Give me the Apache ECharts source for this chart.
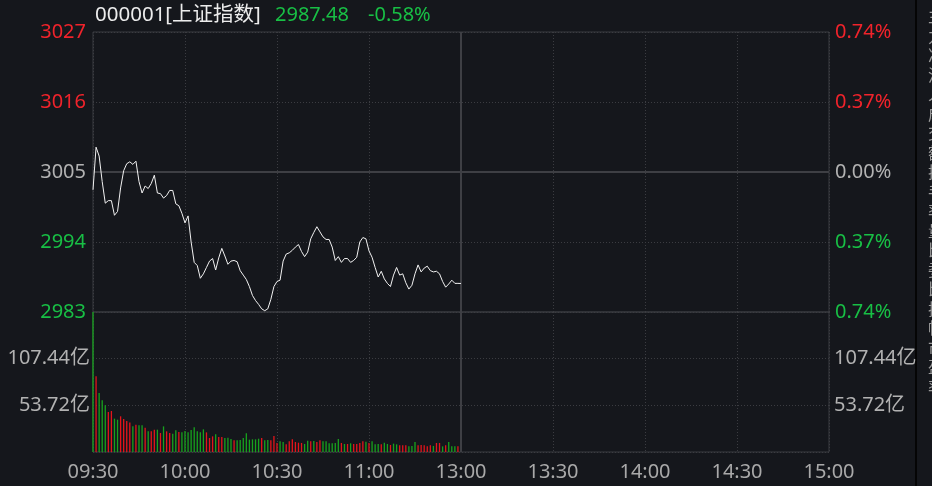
<!DOCTYPE html>
<html>
<head>
<meta charset="utf-8">
<script src="https://cdn.jsdelivr.net/npm/echarts@6/dist/echarts.min.js"></script>
<style>
html,body{margin:0;padding:0;background:#15171c;}
#chart{width:932px;height:486px;}
</style>
</head>
<body>
<div id="chart"></div>
<script>
const title = '000001[上证指数]';
const lastPrice = '2987.48';
const lastChange = '-0.58%';
const prevClose = 3005;
const priceTicks = ['2983', '2994', '3005', '3016', '3027'];
const pctTicks = ['0.74%', '0.37%', '0.00%', '0.37%', '0.74%'];
const volTicks = ['', '53.72亿', '107.44亿', ''];
const timeTicks = ['09:30', '10:00', '10:30', '11:00', '13:00', '13:30', '14:00', '14:30', '15:00'];

// minute-by-minute index level, 09:30 .. 11:30
const prices = [
  3002.2, 3008.9, 3007.5, 3003.5, 3000.1, 3000.5, 3000.5, 2998.2, 2998.8, 3002.5,
  3005.2, 3006.3, 3006.6, 3006.2, 3006.7, 3003.5, 3001.7, 3002.8, 3002.4, 3003.2,
  3004.5, 3001.7, 3001.6, 3000.9, 3001.3, 3002.1, 3002.1, 3000.0, 2999.7, 2998.5,
  2997.0, 2998.1, 2994.0, 2990.8, 2990.3, 2988.3, 2989.0, 2990.0, 2991.0, 2991.4,
  2989.6, 2991.5, 2993.0, 2991.8, 2990.5, 2991.0, 2991.1, 2990.9, 2989.5, 2988.8,
  2988.1, 2987.0, 2985.6, 2984.8, 2984.2, 2983.5, 2983.2, 2983.5, 2985.0, 2987.0,
  2987.8, 2988.0, 2991.0, 2992.1, 2992.3, 2992.7, 2993.2, 2993.6, 2992.5, 2991.7,
  2992.4, 2994.5, 2995.5, 2996.4, 2995.6, 2994.8, 2994.4, 2994.4, 2993.2, 2991.1,
  2991.7, 2990.8, 2991.4, 2991.4, 2990.8, 2991.1, 2991.6, 2994.0, 2994.7, 2994.5,
  2992.6, 2991.6, 2990.0, 2988.5, 2989.4, 2988.2, 2987.5, 2987.0, 2988.8, 2990.0,
  2988.8, 2989.0, 2987.6, 2986.6, 2987.2, 2989.0, 2990.4, 2989.3, 2989.9, 2990.2,
  2989.5, 2989.3, 2989.4, 2989.0, 2987.8, 2986.9, 2987.4, 2988.0, 2987.5, 2987.5,
  2987.48
];

// turnover per minute, 亿
const volumes = [
  250, 87.1, 67.9, 59.5, 53.7, 46.0, 47.2, 38.4, 37.2, 41.1,
  38.0, 35.7, 34.1, 29.5, 31.5, 30.7, 30.7, 28.0, 23.8, 23.8,
  25.7, 25.7, 21.9, 29.5, 23.8, 21.9, 21.1, 24.9, 23.0, 22.6,
  24.2, 22.6, 25.3, 28.4, 23.8, 22.6, 26.1, 22.6, 16.1, 18.0,
  20.3, 17.3, 17.3, 16.1, 16.5, 15.0, 13.4, 13.4, 13.8, 16.1,
  21.5, 14.2, 14.6, 14.6, 15.3, 16.1, 13.4, 13.8, 13.4, 18.4,
  10.4, 12.3, 11.5, 8.8, 12.3, 14.6, 11.5, 10.7, 10.4, 9.2,
  13.0, 12.3, 12.7, 11.5, 13.4, 12.3, 12.3, 10.0, 10.0, 10.4,
  14.9, 10.4, 9.2, 9.2, 10.0, 9.2, 9.2, 10.4, 12.3, 11.9,
  10.4, 12.3, 8.8, 9.2, 8.8, 10.7, 9.2, 8.1, 9.6, 8.8,
  7.7, 7.7, 7.7, 6.5, 6.9, 11.5, 7.7, 8.1, 7.7, 6.5,
  7.7, 7.0, 10.4, 10.4, 6.5, 7.7, 11.5, 6.5, 6.5, 6.5,
  5.8
];
// 1 = up minute (red), -1 = down minute (green)
const volDir = [
  -1, 1, -1, -1, -1, 1, 1, -1, -1, 1,
  1, 1, 1, -1, 1, -1, -1, 1, -1, 1,
  1, -1, 1, -1, 1, 1, -1, -1, 1, -1,
  -1, -1, -1, -1, -1, -1, -1, 1, 1, 1,
  -1, 1, 1, -1, -1, -1, 1, -1, -1, -1,
  -1, -1, -1, -1, -1, 1, -1, -1, 1, 1,
  1, -1, -1, 1, 1, 1, 1, 1, 1, -1,
  -1, 1, -1, 1, 1, -1, -1, -1, -1, -1,
  -1, 1, -1, 1, -1, 1, 1, 1, 1, -1,
  1, -1, -1, -1, 1, -1, -1, 1, -1, -1,
  1, 1, 1, -1, -1, -1, 1, 1, 1, 1,
  1, -1, 1, 1, -1, 1, -1, -1, -1, 1,
  1
];

const sideText = '主力净流入成交额换手率量比委比振幅市盈率';

const RED = '#f0232b';
const GREEN = '#18bf45';
const GREY = '#b2b2b2';
const BAR_RED = '#e4141b';
const BAR_GREEN = '#17a31d';
const LINE = '#3b3c41';
const FONT = "'Noto Sans', 'Noto Sans CJK SC', sans-serif";

const priceData = prices.map((p, i) => [i, +(p - prevClose).toFixed(2)]);
const volData = volumes.map((v, i) => ({
  value: [i, v],
  itemStyle: { color: volDir[i] > 0 ? BAR_RED : BAR_GREEN }
}));

const chart = echarts.init(document.getElementById('chart'), null, { renderer: 'canvas' });

const xCommon = {
  type: 'value', min: 0, max: 240, interval: 30,
  axisLine: { show: false }, axisTick: { show: false },
  splitLine: { show: true, lineStyle: { color: LINE, type: [1, 2], width: 1 } }
};

chart.setOption({
  animation: false,
  backgroundColor: '#15171c',
  textStyle: { fontFamily: FONT },
  grid: [
    { left: 93, right: 103, top: 32, height: 280, show: true, borderColor: LINE, borderWidth: 1, backgroundColor: 'transparent' },
    { left: 93, right: 103, top: 312, height: 140, show: true, borderColor: LINE, borderWidth: 1, backgroundColor: 'transparent' }
  ],
  xAxis: [
    Object.assign({ gridIndex: 0, axisLabel: { show: false } }, xCommon),
    Object.assign({ gridIndex: 1, axisLabel: {
      show: true, margin: 10, color: '#a9a9a9', fontSize: 20, fontFamily: FONT,
      formatter: v => timeTicks[Math.round(v / 30)] || ''
    } }, xCommon)
  ],
  yAxis: [
    {
      gridIndex: 0, type: 'value', min: -22, max: 22, interval: 11, position: 'left',
      axisLine: { show: false }, axisTick: { show: false },
      splitLine: { show: true, lineStyle: { color: LINE, type: [1, 2], width: 1 } },
      axisLabel: {
        margin: 7, fontSize: 20, fontFamily: FONT, padding: [4, 0, 0, 0],
        formatter: v => priceTicks[Math.round(v / 11) + 2],
        color: v => { const n = parseFloat(v); return n > 0.01 ? RED : (n < -0.01 ? GREEN : GREY); }
      }
    },
    {
      gridIndex: 0, type: 'value', min: -22, max: 22, interval: 11, position: 'right',
      axisLine: { show: false }, axisTick: { show: false }, splitLine: { show: false },
      axisLabel: {
        margin: 6, fontSize: 20, fontFamily: FONT, padding: [4, 0, 0, 0],
        formatter: v => pctTicks[Math.round(v / 11) + 2],
        color: v => { const n = parseFloat(v); return n > 0.01 ? RED : (n < -0.01 ? GREEN : GREY); }
      }
    },
    {
      gridIndex: 1, type: 'value', min: 0, max: 161.16, interval: 53.72, position: 'left',
      axisLine: { show: false }, axisTick: { show: false },
      splitLine: { show: true, lineStyle: { color: LINE, type: [1, 2], width: 1 } },
      axisLabel: {
        margin: 3, fontSize: 20, fontFamily: FONT, color: GREY, padding: [4, 0, 0, 0],
        formatter: v => volTicks[Math.round(v / 53.72)] || ''
      }
    },
    {
      gridIndex: 1, type: 'value', min: 0, max: 161.16, interval: 53.72, position: 'right',
      axisLine: { show: false }, axisTick: { show: false }, splitLine: { show: false },
      axisLabel: {
        margin: 5, fontSize: 20, fontFamily: FONT, color: GREY, padding: [4, 0, 0, 0],
        formatter: v => volTicks[Math.round(v / 53.72)] || ''
      }
    }
  ],
  series: [
    {
      type: 'line', xAxisIndex: 0, yAxisIndex: 0, data: priceData,
      showSymbol: false, symbol: 'none', z: 5,
      lineStyle: { color: '#f2f2f2', width: 1 },
      markLine: {
        silent: true, symbol: 'none', label: { show: false }, animation: false,
        lineStyle: { color: '#3e3f44', type: 'solid', width: 2 },
        data: [{ yAxis: 0 }, { xAxis: 120 }]
      }
    },
    {
      type: 'bar', xAxisIndex: 1, yAxisIndex: 2, data: volData,
      barWidth: 1.3, clip: true,
      markLine: {
        silent: true, symbol: 'none', label: { show: false }, animation: false,
        lineStyle: { color: '#3e3f44', type: 'solid', width: 2 },
        data: [{ xAxis: 120 }]
      }
    }
  ],
  graphic: [
    { type: 'text', left: 95, top: 5, style: { text: title, fill: '#ececec', font: '20.5px ' + FONT } },
    { type: 'text', left: 275, top: 5, style: { text: lastPrice, fill: GREEN, font: '20px ' + FONT } },
    { type: 'text', left: 368, top: 5, style: { text: lastChange, fill: GREEN, font: '20px ' + FONT } },
    { type: 'rect', shape: { x: 915, y: 0, width: 2, height: 486 }, style: { fill: '#050505' } },
    { type: 'text', left: 928, top: 8, style: { text: sideText.split('').join('\n'), fill: '#9a9a9a', font: '16px ' + FONT, lineHeight: 19.5 } }
  ]
});
</script>
</body>
</html>
